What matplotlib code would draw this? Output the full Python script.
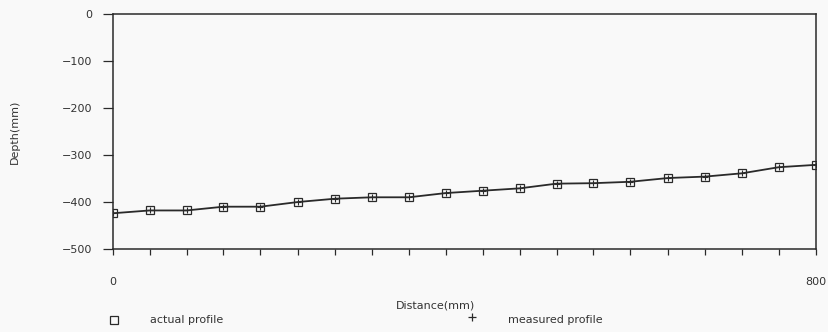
import matplotlib.pyplot as plt
from matplotlib.lines import Line2D

# profile along the trench, distance in mm
distance = [0, 42, 84, 126, 168, 211, 253, 295, 337, 379,
            421, 463, 505, 547, 589, 632, 674, 716, 758, 800]
actual = [-424, -418, -418, -410, -410, -400, -393, -390, -390, -381,
          -376, -371, -361, -360, -357, -349, -346, -339, -326, -321]
measured = [-424, -418, -418, -410, -410, -400, -393, -390, -390, -381,
            -376, -371, -361, -360, -357, -349, -346, -339, -326, -321]
yticks = [0, -100, -200, -300, -400, -500]

ink = '#2a2a2a'
plt.rcParams['font.family'] = 'DejaVu Sans'

fig = plt.figure(figsize=(8.29, 3.32), dpi=100, facecolor='#f9f9f9')
ax = fig.add_axes([0.136, 0.25, 0.848, 0.708])
ax.set_facecolor('#f9f9f9')

ax.plot(distance, actual, color=ink, lw=1.3, marker='s', ms=6,
        mfc='none', mec=ink, mew=0.9)
ax.plot(distance, measured, color=ink, lw=0, marker='+', ms=5, mew=0.8)

ax.set_xlim(0, 800)
ax.set_ylim(-500, 0)
ax.set_xticks(distance)
ax.set_xticklabels(['0'] + [''] * 18 + ['800'])
ax.set_yticks(yticks)
ax.set_yticklabels(['0', '\u2212100', '\u2212200', '\u2212300', '\u2212400', '\u2212500'])
ax.tick_params(axis='both', direction='out', width=0.9, colors=ink,
               labelsize=8, labelcolor='#333333')
ax.tick_params(axis='y', length=7, pad=8)
ax.tick_params(axis='x', length=4, pad=16)
for s in ax.spines.values():
    s.set_color(ink)
    s.set_linewidth(1.1)

ax.set_ylabel('Depth(mm)', fontsize=8, color='#333333', labelpad=30)
fig.text(0.525, 0.08, 'Distance(mm)', ha='center', va='center', fontsize=8,
         color='#333333')

# legend row under the axis
fig.add_artist(Line2D([0.137], [0.036], marker='s', ms=6, mfc='none', mec=ink,
                      mew=0.9, lw=0, transform=fig.transFigure))
fig.text(0.181, 0.036, 'actual profile', ha='left', va='center', fontsize=8,
         color='#333333')
fig.add_artist(Line2D([0.569], [0.045], marker='+', ms=6, mew=0.9, color=ink,
                      lw=0, transform=fig.transFigure))
fig.text(0.613, 0.036, 'measured profile', ha='left', va='center', fontsize=8,
         color='#333333')

fig.savefig('out.png', dpi=100, facecolor=fig.get_facecolor())
